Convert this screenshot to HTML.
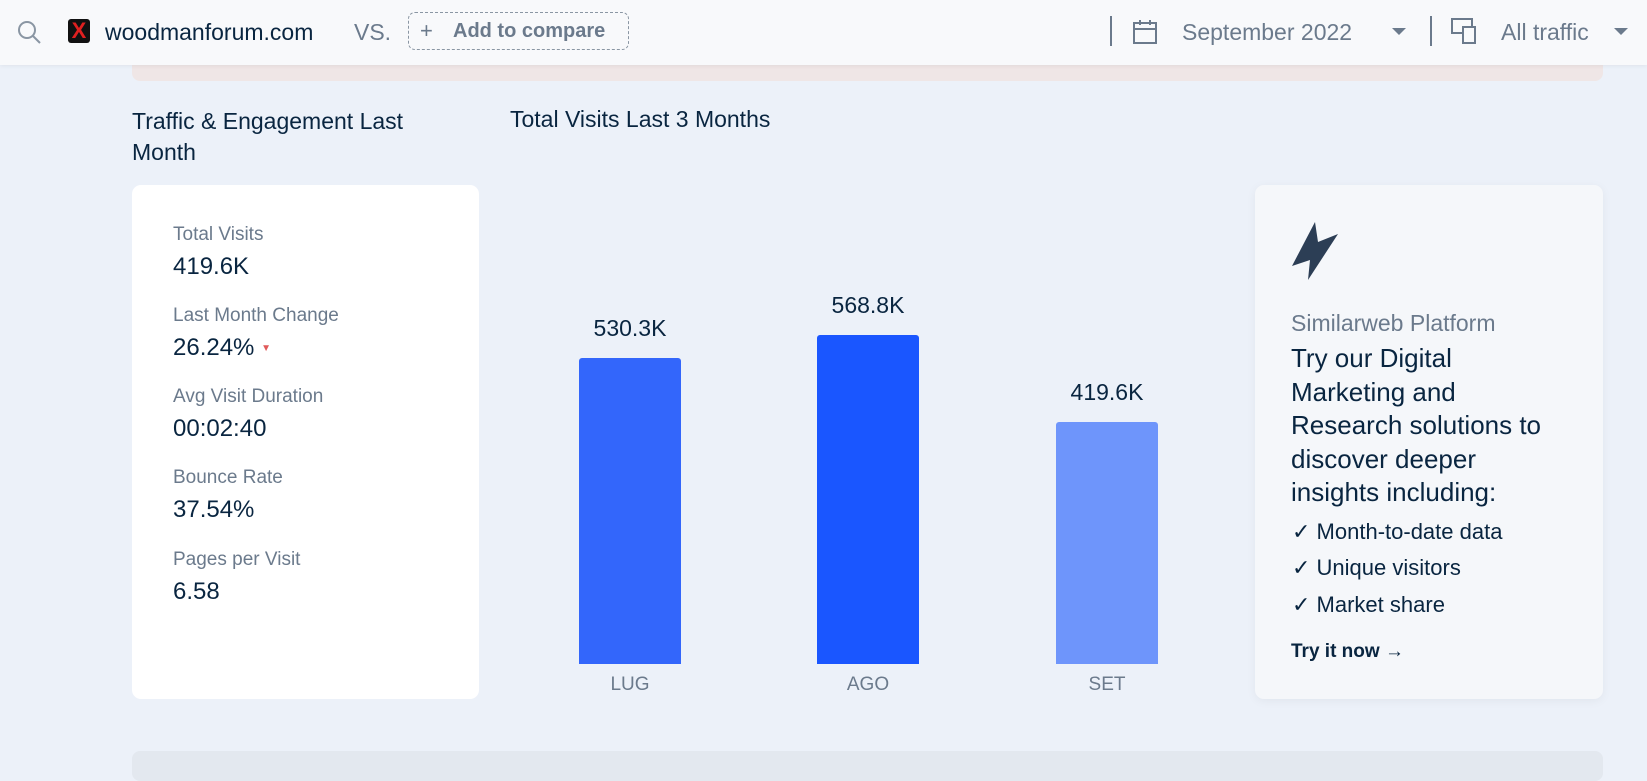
<!DOCTYPE html>
<html><head><meta charset="utf-8"><style>
*{margin:0;padding:0;box-sizing:border-box}
body{width:1647px;height:771px;overflow:hidden;background:#ecf1f9;font-family:"Liberation Sans",sans-serif;color:#092540;position:relative}
.a{position:absolute;white-space:nowrap}
.hdr{position:absolute;left:0;top:0;width:1647px;height:65px;background:#f8f9fb;box-shadow:0 1px 4px rgba(0,0,0,.06)}
.card{position:absolute;border-radius:9px}
.lbl{font-size:19px;color:#6b7a8c}
.val{font-size:24px;color:#092540}
.bar{position:absolute;border-radius:3px 3px 0 0}
.bv{font-size:23px;color:#092540;text-align:center;width:140px}
.bl{font-size:19px;color:#6b7a8c;text-align:center;width:140px}
.ck{font-size:22px;color:#092540}
</style></head><body>
<div class="a" style="left:132px;top:60px;width:1471px;height:21px;background:#efe6e6;border-radius:0 0 8px 8px"></div>
<div class="hdr"></div>
<svg class="a" style="left:16px;top:19px" width="26" height="26"><circle cx="11" cy="11" r="8" fill="none" stroke="#8a96a3" stroke-width="2"/><line x1="17" y1="17" x2="24" y2="24" stroke="#8a96a3" stroke-width="2"/></svg>
<div class="a" style="left:68px;top:19px;width:22px;height:24px;background:#111;border-radius:3px;color:#e02020;font-weight:bold;font-size:22px;line-height:24px;text-align:center">X</div>
<div class="a" style="left:105px;top:19px;font-size:23px;color:#092540">woodmanforum.com</div>
<div class="a" style="left:354px;top:19px;font-size:23px;color:#6b7a8c">VS.</div>
<div class="a" style="left:408px;top:12px;width:221px;height:38px;border:1.5px dashed #8a96a3;border-radius:7px"></div>
<div class="a" style="left:420px;top:18px;font-size:22px;color:#6b7a8c">+</div>
<div class="a" style="left:453px;top:20px;font-size:20px;font-weight:bold;color:#6b7a8c">Add to compare</div>
<div class="a" style="left:1110px;top:16px;width:1.5px;height:30px;background:#6b7a8c"></div>
<svg class="a" style="left:1132px;top:18px" width="28" height="28"><rect x="2" y="5" width="22" height="20" fill="none" stroke="#6b7a8c" stroke-width="2"/><line x1="2" y1="11" x2="24" y2="11" stroke="#6b7a8c" stroke-width="2"/><line x1="8" y1="2" x2="8" y2="7" stroke="#6b7a8c" stroke-width="2"/><line x1="18" y1="2" x2="18" y2="7" stroke="#6b7a8c" stroke-width="2"/></svg>
<div class="a" style="left:1182px;top:19px;font-size:23px;color:#6b7a8c">September 2022</div>
<div class="a" style="left:1392px;top:28px;border-left:7px solid transparent;border-right:7px solid transparent;border-top:7px solid #6b7a8c"></div>
<div class="a" style="left:1430px;top:16px;width:1.5px;height:30px;background:#6b7a8c"></div>
<svg class="a" style="left:1450px;top:17px" width="30" height="28"><rect x="2" y="2" width="20" height="14" fill="none" stroke="#6b7a8c" stroke-width="2"/><rect x="13" y="10" width="12" height="16" fill="#f8f9fb" stroke="#6b7a8c" stroke-width="2"/></svg>
<div class="a" style="left:1501px;top:19px;font-size:23px;color:#6b7a8c">All traffic</div>
<div class="a" style="left:1614px;top:28px;border-left:7px solid transparent;border-right:7px solid transparent;border-top:7px solid #6b7a8c"></div>

<div class="a" style="left:132px;top:106px;font-size:23px;line-height:31px;color:#092540">Traffic &amp; Engagement Last<br>Month</div>
<div class="a" style="left:510px;top:106px;font-size:23px;color:#092540">Total Visits Last 3 Months</div>

<div class="card" style="left:132px;top:185px;width:347px;height:514px;background:#fff"></div>
<div class="a lbl" style="left:173px;top:224px">Total Visits</div>
<div class="a val" style="left:173px;top:253px">419.6K</div>
<div class="a lbl" style="left:173px;top:305px">Last Month Change</div>
<div class="a val" style="left:173px;top:334px">26.24% <span style="font-size:10px;color:#e05a5a;vertical-align:middle">▼</span></div>
<div class="a lbl" style="left:173px;top:386px">Avg Visit Duration</div>
<div class="a val" style="left:173px;top:415px">00:02:40</div>
<div class="a lbl" style="left:173px;top:467px">Bounce Rate</div>
<div class="a val" style="left:173px;top:496px">37.54%</div>
<div class="a lbl" style="left:173px;top:549px">Pages per Visit</div>
<div class="a val" style="left:173px;top:578px">6.58</div>

<div class="bar" style="left:579px;top:358px;width:102px;height:306px;background:#3366fb"></div>
<div class="bar" style="left:817px;top:335px;width:102px;height:329px;background:#1a56ff"></div>
<div class="bar" style="left:1056px;top:422px;width:102px;height:242px;background:#6e95fb"></div>
<div class="a bv" style="left:560px;top:315px">530.3K</div>
<div class="a bv" style="left:798px;top:292px">568.8K</div>
<div class="a bv" style="left:1037px;top:379px">419.6K</div>
<div class="a bl" style="left:560px;top:674px">LUG</div>
<div class="a bl" style="left:798px;top:674px">AGO</div>
<div class="a bl" style="left:1037px;top:674px">SET</div>

<div class="card" style="left:1255px;top:185px;width:348px;height:514px;background:#f5f7fa;box-shadow:0 2px 10px rgba(0,0,0,.05)"></div>
<svg class="a" style="left:1290px;top:220px" width="50" height="62"><polygon points="25,2 2,46 20,40 18,60 48,14 28,22" fill="#2c3e55"/></svg>
<div class="a" style="left:1291px;top:310px;font-size:23px;color:#6b7a8c">Similarweb Platform</div>
<div class="a" style="left:1291px;top:342px;font-size:26px;line-height:33.5px;color:#092540">Try our Digital<br>Marketing and<br>Research solutions to<br>discover deeper<br>insights including:</div>
<div class="a ck" style="left:1292px;top:519px">✓ Month-to-date data</div>
<div class="a ck" style="left:1292px;top:555px">✓ Unique visitors</div>
<div class="a ck" style="left:1292px;top:592px">✓ Market share</div>
<div class="a" style="left:1291px;top:641px;font-size:19px;font-weight:bold;color:#092540">Try it now →</div>

<div class="a" style="left:132px;top:751px;width:1471px;height:30px;background:#e3e8ef;border-radius:8px"></div>
</body></html>
